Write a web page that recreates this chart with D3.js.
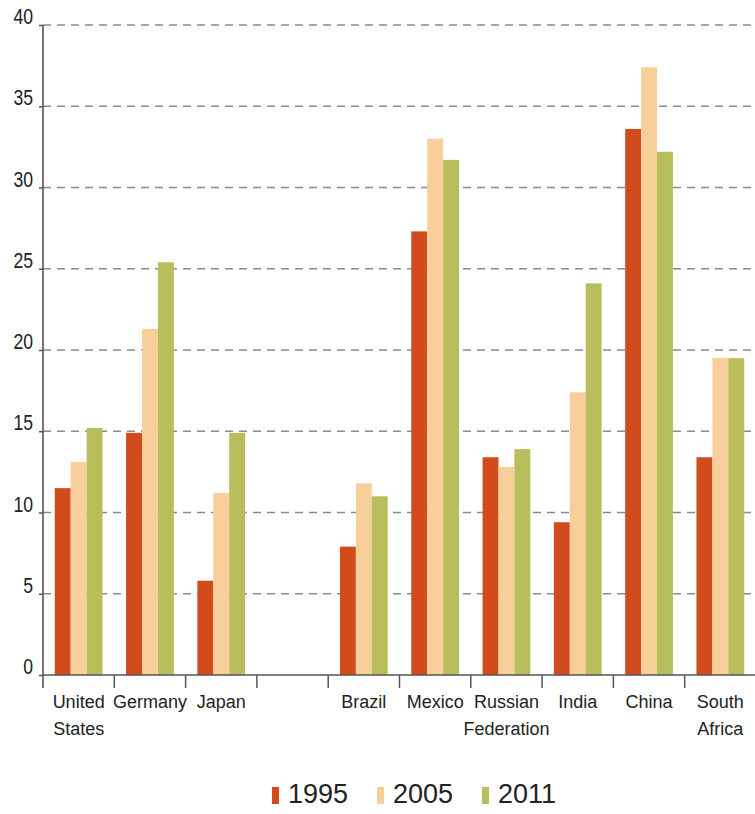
<!DOCTYPE html>
<html>
<head>
<meta charset="utf-8">
<script src="https://cdn.jsdelivr.net/npm/d3@7"></script>
<style>
  body { margin: 0; background: #fff; }
  svg { display: block; font-family: "Liberation Sans", Arial, sans-serif; }
</style>
</head>
<body>
<svg id="chart" width="755" height="814"></svg>
<script>
// Categories (the empty entry is the spacer between the two country groups)
const categories = ["United States", "Germany", "Japan", "", "Brazil", "Mexico", "Russian Federation", "India", "China", "South Africa"];
const years = ["1995", "2005", "2011"];
const values1995 = [11.5, 14.9, 5.8, null, 7.9, 27.3, 13.4, 9.4, 33.6, 13.4];
const values2005 = [13.1, 21.3, 11.2, null, 11.8, 33.0, 12.8, 17.4, 37.4, 19.5];
const values2011 = [15.2, 25.4, 14.9, null, 11.0, 31.7, 13.9, 24.1, 32.2, 19.5];
const yTicks = [0, 5, 10, 15, 20, 25, 30, 35, 40];
const seriesColors = ["#d14b1c", "#f8cf9a", "#b9be5c"];

const series = [values1995, values2005, values2011];

const svg = d3.select("#chart");
const margin = { left: 43, right: 756, top: 25, bottom: 675 };

const x = d3.scaleBand()
  .domain(d3.range(categories.length))
  .range([margin.left, margin.right])
  .paddingInner(0)
  .paddingOuter(0);

const xs = d3.scaleBand()
  .domain(years)
  .range([x.bandwidth() * 0.165, x.bandwidth() * 0.835])
  .padding(0);

const y = d3.scaleLinear().domain([0, 40]).range([margin.bottom, margin.top]);

const color = d3.scaleOrdinal().domain(years).range(seriesColors);

// Dashed horizontal gridlines
svg.append("g")
  .selectAll("line")
  .data(yTicks.filter(t => t > 0))
  .join("line")
  .attr("x1", margin.left)
  .attr("x2", 755)
  .attr("y1", d => y(d))
  .attr("y2", d => y(d))
  .attr("stroke", "#8a8a8a")
  .attr("stroke-width", 1.4)
  .attr("stroke-dasharray", "8,6");

// Bars
const rows = [];
categories.forEach((c, i) => {
  years.forEach((yr, k) => {
    const v = series[k][i];
    if (v != null) rows.push({ i, yr, v });
  });
});

svg.append("g")
  .selectAll("rect")
  .data(rows)
  .join("rect")
  .attr("x", d => x(d.i) + xs(d.yr))
  .attr("width", xs.bandwidth())
  .attr("y", d => y(d.v))
  .attr("height", d => y(0) - y(d.v))
  .attr("fill", d => color(d.yr));

// Y axis
const yAxis = svg.append("g")
  .attr("transform", `translate(${margin.left},0)`)
  .call(d3.axisLeft(y).tickValues(yTicks).tickSize(4).tickFormat(""));
yAxis.select(".domain").remove();
yAxis.selectAll(".tick line").attr("stroke", "#555").attr("stroke-width", 1.5);

svg.append("line")
  .attr("x1", margin.left).attr("x2", margin.left)
  .attr("y1", y(40)).attr("y2", y(0) + 13)
  .attr("stroke", "#555").attr("stroke-width", 1.6);

svg.append("g")
  .selectAll("text")
  .data(yTicks)
  .join("text")
  .attr("transform", d => `translate(33,${y(d) - 1}) scale(0.8,1)`)
  .attr("text-anchor", "end")
  .attr("font-size", 22)
  .attr("fill", "#222")
  .text(d => d);

// X axis
svg.append("line")
  .attr("x1", margin.left).attr("x2", 755)
  .attr("y1", y(0)).attr("y2", y(0))
  .attr("stroke", "#555").attr("stroke-width", 1.6);

svg.append("g")
  .selectAll("line")
  .data(d3.range(1, categories.length + 1))
  .join("line")
  .attr("x1", i => x.step() * i + margin.left)
  .attr("x2", i => x.step() * i + margin.left)
  .attr("y1", y(0))
  .attr("y2", y(0) + 13)
  .attr("stroke", "#555")
  .attr("stroke-width", 1.5);

const labels = svg.append("g")
  .selectAll("text")
  .data(categories.map((c, i) => ({ c, i })).filter(d => d.c))
  .join("text")
  .attr("text-anchor", "middle")
  .attr("font-size", 18)
  .attr("fill", "#222")
  .attr("x", d => x(d.i) + x.bandwidth() / 2)
  .attr("y", y(0) + 33);

labels.selectAll("tspan")
  .data(d => d.c.split(" ").map(w => ({ w, cx: x(d.i) + x.bandwidth() / 2 })))
  .join("tspan")
  .attr("x", d => d.cx)
  .attr("dy", (d, j) => j === 0 ? 0 : 27)
  .text(d => d.w);

// Legend
const legend = svg.append("g")
  .selectAll("g")
  .data(years)
  .join("g")
  .attr("transform", (d, k) => `translate(${272 + k * 105},0)`);

legend.append("rect")
  .attr("x", 0).attr("y", 787)
  .attr("width", 7).attr("height", 17)
  .attr("fill", d => color(d));

legend.append("text")
  .attr("x", 16).attr("y", 803)
  .attr("font-size", 27)
  .attr("fill", "#222")
  .text(d => d);
</script>
</body>
</html>
